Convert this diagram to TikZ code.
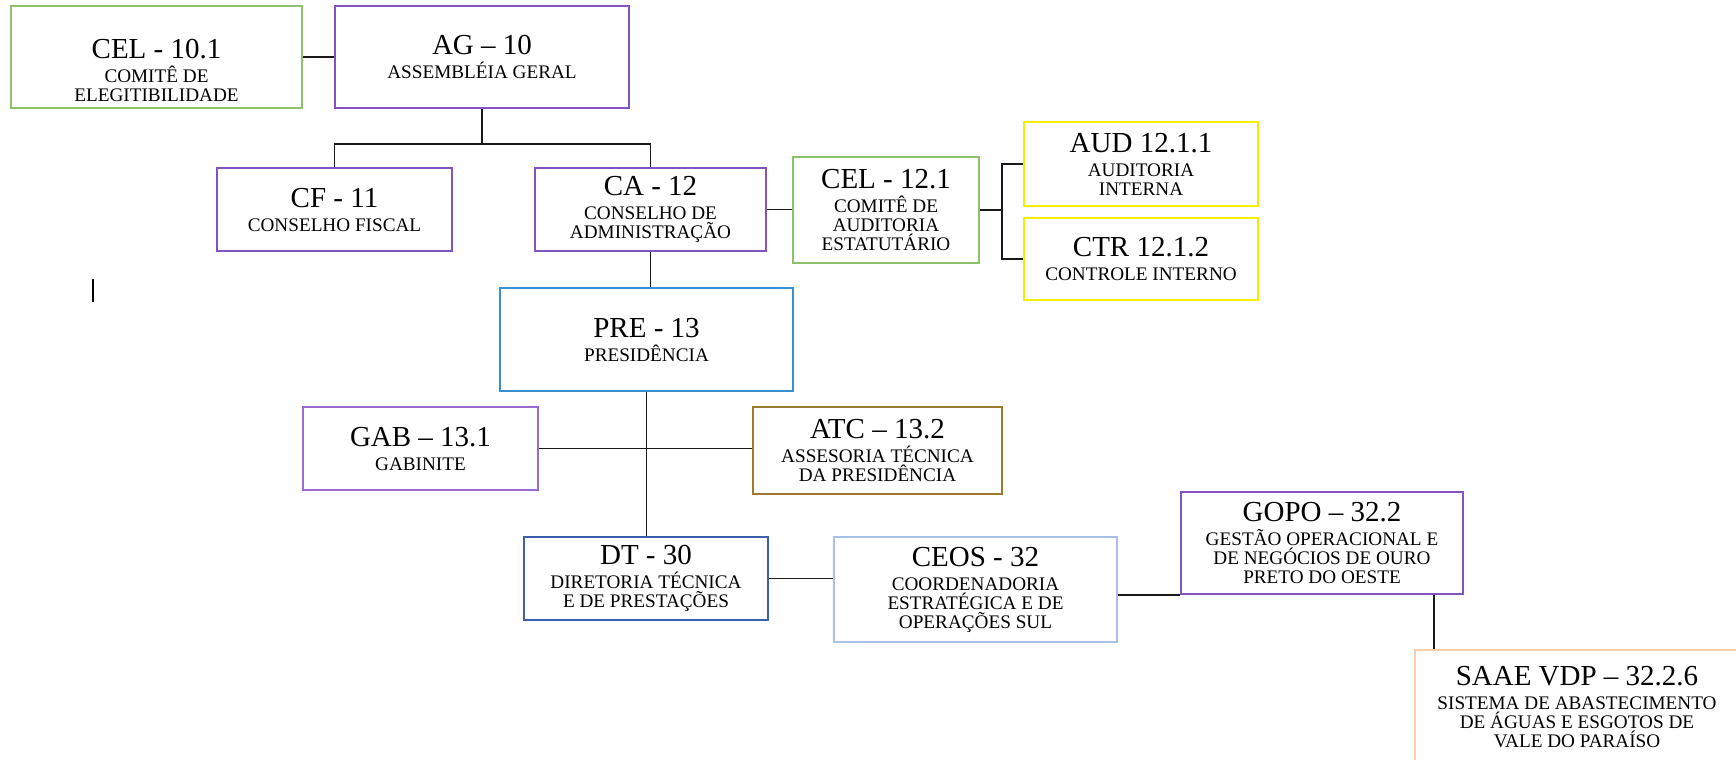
\documentclass[tikz,border=0pt]{standalone}
\usepackage{fontspec}
\setmainfont{Liberation Serif}
\usetikzlibrary{positioning}
\definecolor{celgreen}{HTML}{8CC26A}
\definecolor{agpurple}{HTML}{8453C2}
\definecolor{gabpurple}{HTML}{9A6BCF}
\definecolor{audyellow}{HTML}{F5F000}
\definecolor{preblue}{HTML}{3A8FD3}
\definecolor{atcbrown}{HTML}{9C7A2E}
\definecolor{dtblue}{HTML}{3F5FAA}
\definecolor{ceosblue}{HTML}{A8C0EA}
\definecolor{saaepeach}{HTML}{F8CDB0}
\newcommand{\ttl}[1]{{\fontsize{14.5}{14.5}\selectfont #1}}
\tikzset{
  unit/.style={draw, line width=0.8pt, align=center, inner sep=0pt,
    font=\fontsize{9.6}{9.5}\selectfont},
  sz/.style 2 args={minimum width=#1*0.5pt, minimum height=#2*0.5pt},
  link/.style={line width=0.85pt, black!90}
}

\begin{document}
\begin{tikzpicture}[x=0.5pt,y=-0.5pt]
    \useasboundingbox (0,0) rectangle (1736,760);
    % assembleia e conselhos
    \node[unit, draw=celgreen, sz={291}{102}] (cel10) at (156.5,57)
      {\ttl{\rule{0pt}{23pt}CEL - 10.1}\\[2.5pt]COMITÊ DE\\ELEGITIBILIDADE};
    \node[unit, draw=agpurple, sz={294}{102}] (ag) at (482,57)
      {\ttl{AG – 10}\\[2.5pt]ASSEMBLÉIA GERAL};
    \node[unit, draw=agpurple, sz={235}{83}] (cf) at (334.5,209.5)
      {\ttl{CF - 11}\\[2.5pt]CONSELHO FISCAL};
    \node[unit, draw=agpurple, sz={231}{83}] (ca) at (650.5,209.5)
      {\ttl{CA - 12}\\[2.5pt]CONSELHO DE\\ADMINISTRAÇÃO};
    \node[unit, draw=celgreen, sz={186}{106}] (cel12) at (886,210)
      {\ttl{CEL - 12.1}\\[2.5pt]COMITÊ DE\\AUDITORIA\\ESTATUTÁRIO};
    \node[unit, draw=audyellow, sz={234}{84}] (aud) at (1141,164)
      {\ttl{AUD 12.1.1}\\[2.5pt]AUDITORIA\\INTERNA};
    \node[unit, draw=audyellow, sz={234}{82}] (ctr) at (1141,259)
      {\ttl{CTR 12.1.2}\\[2.5pt]CONTROLE INTERNO};
    % presidencia
    \node[unit, draw=preblue, sz={293}{103}] (pre) at (646.5,339.5)
      {\ttl{PRE - 13}\\[2.5pt]PRESIDÊNCIA};
    \node[unit, draw=gabpurple, sz={235}{83}] (gab) at (420.5,448.5)
      {\ttl{GAB – 13.1}\\[2.5pt]GABINITE};
    \node[unit, draw=atcbrown, sz={249}{87}] (atc) at (877.5,450.5)
      {\ttl{ATC – 13.2}\\[2.5pt]ASSESORIA TÉCNICA\\DA PRESIDÊNCIA};
    % diretoria tecnica
    \node[unit, draw=dtblue, sz={244}{83}] (dt) at (646,578.5)
      {\ttl{DT - 30}\\[2.5pt]DIRETORIA TÉCNICA\\E DE PRESTAÇÕES};
    \node[unit, draw=ceosblue, sz={283}{105}] (ceos) at (975.5,589.5)
      {\ttl{CEOS - 32}\\[2.5pt]COORDENADORIA\\ESTRATÉGICA E DE\\OPERAÇÕES SUL};
    \node[unit, draw=agpurple, sz={282}{102}] (gopo) at (1322,543)
      {\ttl{GOPO – 32.2}\\[2.5pt]GESTÃO OPERACIONAL E\\DE NEGÓCIOS DE OURO\\PRETO DO OESTE};
    \node[unit, draw=saaepeach, sz={324}{114}] (saae) at (1577,707)
      {\ttl{SAAE VDP – 32.2.6}\\[2.5pt]SISTEMA DE ABASTECIMENTO\\DE ÁGUAS E ESGOTOS DE\\VALE DO PARAÍSO};
    % ligacoes
    \coordinate (agbus) at (482,144);
    \coordinate (audbus) at (1002,210);
    \draw[link] (cel10) -- (ag);
    \draw[link] (ag) -- (agbus);
    \draw[link] (cf.north) |- (agbus) -| (ca.north);
    \draw[link] (ca.east) -- (ca.east -| cel12.west);
    \draw[link] (cel12) -- (audbus);
    \draw[link] (aud.west) -| (audbus) |- (ctr.west);
    \draw[link] (ca.south) -- (ca.south |- pre.north);
    \draw[link] (pre.south) -- (pre.south |- dt.north);
    \draw[link] (gab.east) -- (gab.east -| atc.west);
    \draw[link] (dt.east) -- (dt.east -| ceos.west);
    \draw[link] (gopo.south west) -- (gopo.south west -| ceos.east);
    \draw[link] ([xshift=10pt]saae.north west) -- ([xshift=10pt]saae.north west |- gopo.south);
    \draw[line width=1pt] (93,279) -- (93,302);
\end{tikzpicture}
\end{document}
